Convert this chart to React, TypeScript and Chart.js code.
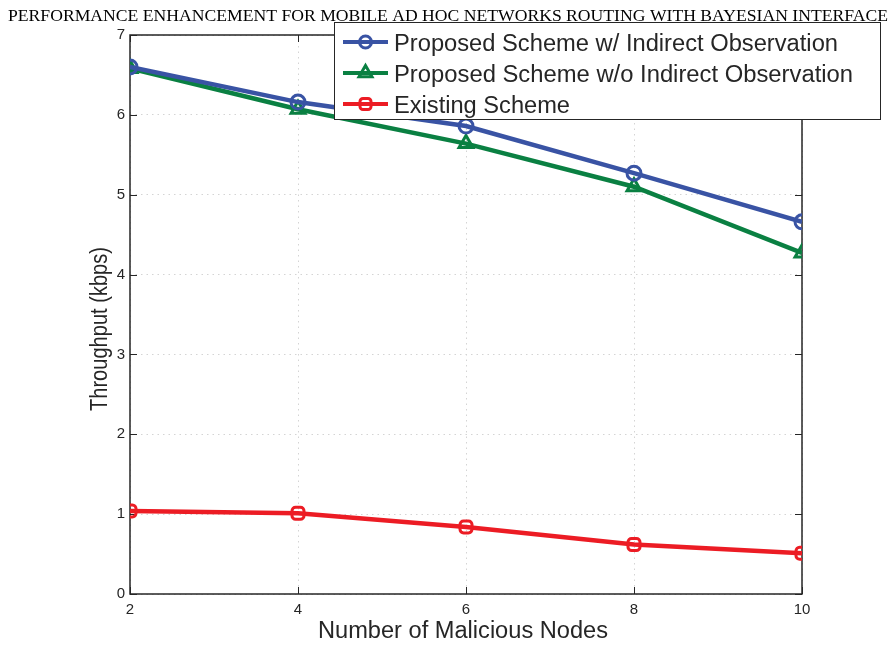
import React, { useEffect, useRef } from "react";
import { Chart, registerables } from "chart.js";

Chart.register(...registerables);

const titleText = "PERFORMANCE ENHANCEMENT FOR MOBILE AD HOC NETWORKS ROUTING WITH BAYESIAN INTERFACE";
const xLabel = "Number of Malicious Nodes";
const yLabel = "Throughput (kbps)";
const maliciousNodes = [2, 4, 6, 8, 10];
const withIndirect = [6.6, 6.16, 5.86, 5.27, 4.66];
const withoutIndirect = [6.58, 6.07, 5.64, 5.1, 4.27];
const existing = [1.04, 1.01, 0.84, 0.62, 0.51];
const seriesNames = [
  "Proposed Scheme w/ Indirect Observation",
  "Proposed Scheme w/o Indirect Observation",
  "Existing Scheme",
];
const xTicks = [2, 4, 6, 8, 10];
const yTicks = [0, 1, 2, 3, 4, 5, 6, 7];

const BLUE = "#3953A4";
const GREEN = "#0A8042";
const RED = "#EC1C24";
const AXIS = "#262626";
const SANS = '"Liberation Sans", Arial, sans-serif';

function drawMarker(ctx: CanvasRenderingContext2D, style: string, x: number, y: number, color: string) {
  ctx.save();
  ctx.strokeStyle = color;
  ctx.lineWidth = 3;
  ctx.beginPath();
  if (style === "circle") {
    ctx.arc(x, y, 6, 0, Math.PI * 2);
  } else if (style === "triangle") {
    const r = 7.5;
    ctx.moveTo(x, y - r);
    ctx.lineTo(x + r * 0.866, y + r * 0.5);
    ctx.lineTo(x - r * 0.866, y + r * 0.5);
    ctx.closePath();
  } else {
    const s = 5.5;
    ctx.roundRect(x - s, y - s, 2 * s, 2 * s, 3);
  }
  ctx.stroke();
  ctx.restore();
}

function fitText(ctx: CanvasRenderingContext2D, text: string, x: number, y: number, targetW: number) {
  const w = ctx.measureText(text).width;
  ctx.save();
  ctx.translate(x, y);
  ctx.scale(targetW / w, 1);
  ctx.fillText(text, 0, 0);
  ctx.restore();
}

const decorPlugin = {
  id: "decor",
  beforeDatasetsDraw(chart: any) {
    const { ctx, chartArea } = chart;
    const { left, right, top, bottom } = chartArea;
    const xs = chart.scales.x;
    const ys = chart.scales.y;
    ctx.save();
    ctx.strokeStyle = AXIS;
    ctx.lineWidth = 1.5;
    ctx.strokeRect(left, top, right - left, bottom - top);
    ctx.lineWidth = 1;
    ctx.beginPath();
    const tl = 7;
    for (const v of xTicks) {
      const px = Math.round(xs.getPixelForValue(v)) + 0.5;
      ctx.moveTo(px, bottom);
      ctx.lineTo(px, bottom - tl);
      ctx.moveTo(px, top);
      ctx.lineTo(px, top + tl);
    }
    for (const v of yTicks) {
      const py = Math.round(ys.getPixelForValue(v)) + 0.5;
      ctx.moveTo(left, py);
      ctx.lineTo(left + tl, py);
      ctx.moveTo(right, py);
      ctx.lineTo(right - tl, py);
    }
    ctx.stroke();
    ctx.restore();
  },
  afterDraw(chart: any) {
    const { ctx } = chart;
    ctx.save();
    // title
    ctx.fillStyle = "#000";
    ctx.font = '17px "Liberation Serif", "Times New Roman", serif';
    ctx.textBaseline = "alphabetic";
    ctx.textAlign = "left";
    fitText(ctx, titleText, 8, 21, 880);

    // axis titles
    ctx.fillStyle = AXIS;
    ctx.font = `23.5px ${SANS}`;
    ctx.textAlign = "left";
    ctx.textBaseline = "middle";
    fitText(ctx, xLabel, 318, 632, 290);
    ctx.save();
    ctx.translate(101, 411);
    ctx.rotate(-Math.PI / 2);
    fitText(ctx, yLabel, 0, 0, 164);
    ctx.restore();

    // legend
    ctx.fillStyle = "#fff";
    ctx.fillRect(334.5, 22.5, 546, 97);
    ctx.strokeStyle = AXIS;
    ctx.lineWidth = 1;
    ctx.strokeRect(334.5, 22.5, 546, 97);
    const colors = [BLUE, GREEN, RED];
    const styles = ["circle", "triangle", "rect"];
    const widths = [444, 459, 176];
    for (let i = 0; i < 3; i++) {
      const y = 42 + i * 31;
      ctx.strokeStyle = colors[i];
      ctx.lineWidth = 4;
      ctx.beginPath();
      ctx.moveTo(343, y);
      ctx.lineTo(388, y);
      ctx.stroke();
      drawMarker(ctx, styles[i], 365.5, y, colors[i]);
      ctx.fillStyle = AXIS;
      ctx.textAlign = "left";
      ctx.textBaseline = "middle";
      ctx.font = `23.5px ${SANS}`;
      fitText(ctx, seriesNames[i], 394, y + 3, widths[i]);
    }
    ctx.restore();
  },
};

export default function App() {
  const ref = useRef<HTMLCanvasElement | null>(null);
  useEffect(() => {
    if (!ref.current) return;
    const mk = (data: number[]) => maliciousNodes.map((x, i) => ({ x, y: data[i] }));
    const common = {
      backgroundColor: "transparent",
      borderWidth: 4.5,
      pointBorderWidth: 3,
      pointBackgroundColor: "transparent",
    };
    const chart = new Chart(ref.current, {
      type: "line",
      data: {
        datasets: [
          {
            ...common,
            label: seriesNames[0],
            data: mk(withIndirect),
            borderColor: BLUE,
            pointStyle: "circle",
            pointRadius: 7,
            pointBorderColor: BLUE,
          },
          {
            ...common,
            label: seriesNames[1],
            data: mk(withoutIndirect),
            borderColor: GREEN,
            pointStyle: "triangle",
            pointRadius: 8,
            pointBorderColor: GREEN,
          },
          {
            ...common,
            label: seriesNames[2],
            data: mk(existing),
            borderColor: RED,
            pointStyle: "rectRounded",
            pointRadius: 7,
            pointBorderColor: RED,
          },
        ],
      },
      options: {
        responsive: false,
        animation: false,
        events: [],
        layout: { padding: { left: 0, top: 35, right: 86, bottom: 0 } },
        plugins: { legend: { display: false }, title: { display: false }, tooltip: { enabled: false } },
        scales: {
          x: {
            type: "linear",
            min: 2,
            max: 10,
            afterFit: (s: any) => {
              s.height = 53;
            },
            afterBuildTicks: (s: any) => {
              s.ticks = xTicks.map((v) => ({ value: v }));
            },
            ticks: {
              color: AXIS,
              font: { family: SANS, size: 15 },
              padding: 7,
              maxRotation: 0,
            },
            grid: { color: "#d4d4d4", drawTicks: false, lineWidth: 1 },
            border: { display: false, dash: [1.5, 4] },
          },
          y: {
            type: "linear",
            min: 0,
            max: 7,
            afterFit: (s: any) => {
              s.width = 130;
            },
            afterBuildTicks: (s: any) => {
              s.ticks = yTicks.map((v) => ({ value: v }));
            },
            ticks: {
              color: AXIS,
              font: { family: SANS, size: 15 },
              padding: 5,
            },
            grid: { color: "#d4d4d4", drawTicks: false, lineWidth: 1 },
            border: { display: false, dash: [1.5, 4] },
          },
        },
      },
      plugins: [decorPlugin],
    });
    return () => chart.destroy();
  }, []);
  return (
    <canvas
      ref={ref}
      width={888}
      height={647}
      style={{ position: "absolute", left: 0, top: 0, width: 888, height: 647, background: "#fff" }}
    />
  );
}
